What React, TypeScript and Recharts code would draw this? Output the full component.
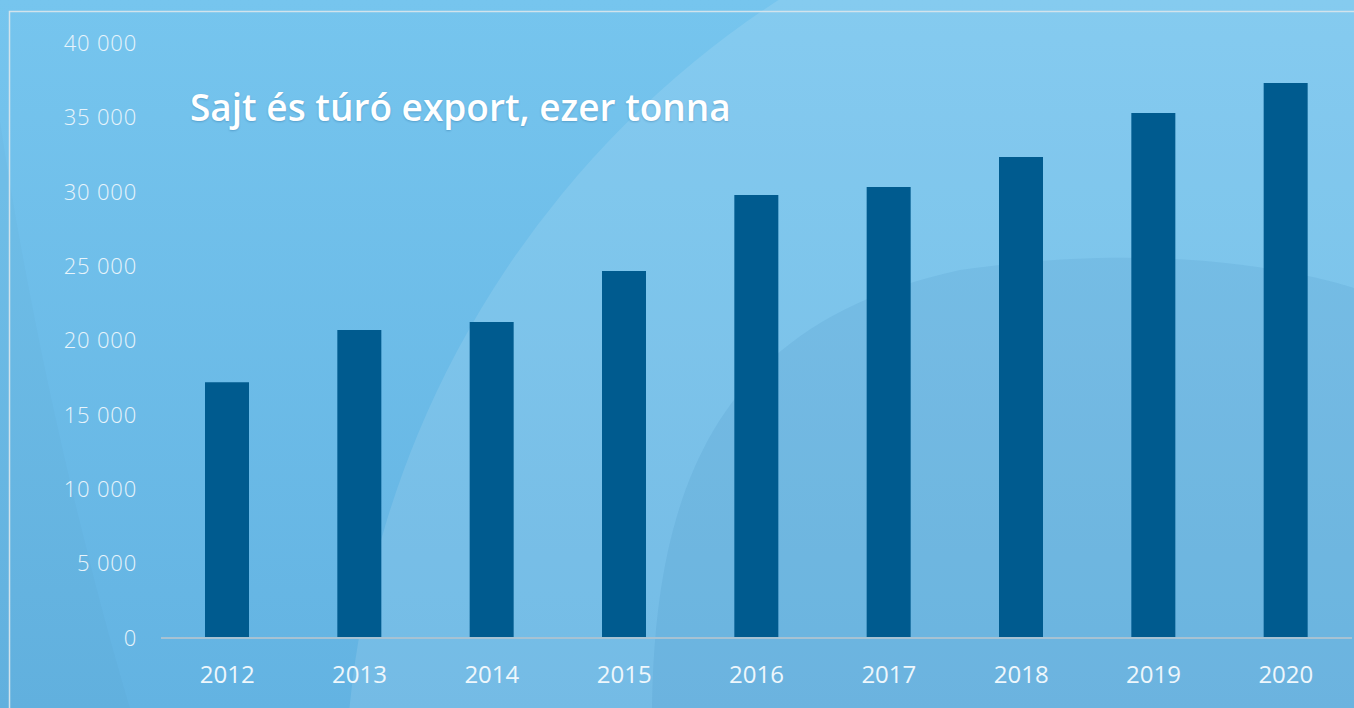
import { BarChart, Bar, XAxis, YAxis } from "recharts";

const YEARS = ["2012", "2013", "2014", "2015", "2016", "2017", "2018", "2019", "2020"];
const EXPORT_VALUES = [17200, 20700, 21250, 24680, 29780, 30320, 32340, 35290, 37310];
const Y_TICKS = [0, 5000, 10000, 15000, 20000, 25000, 30000, 35000, 40000];
const TITLE = "Sajt és túró export, ezer tonna";

const W = 1354;
const H = 708;

const fmt = (v: number) => String(v).replace(/\B(?=(\d{3})+(?!\d))/g, " ");

const data = YEARS.map((y, i) => ({ year: y, value: EXPORT_VALUES[i] }));

// háttér díszítés (körívek), nem adat
function Backdrop() {
  return (
    <svg width={W} height={H} style={{ position: "absolute", left: 0, top: 0 }}>
      <defs>
        <linearGradient id="bg" x1="0" y1="0" x2="0" y2="1">
          <stop offset="0%" stopColor="#76c5ee" />
          <stop offset="100%" stopColor="#63b3e2" />
        </linearGradient>
      </defs>
      <rect x={0} y={0} width={W} height={H} fill="url(#bg)" />
      <path d="M 0,120 C 30,320 80,540 130,708 L 0,708 Z" fill="#000" fillOpacity={0.015} />
      <circle cx={1300} cy={800} r={955} fill="#fff" fillOpacity={0.11} />
      <path
        d="M 652,708 C 655,470 730,320 960,270 C 1130,245 1270,262 1354,288 L 1354,708 Z"
        fill="#0a5f9c"
        fillOpacity={0.08}
      />
      <rect x={9.5} y={11.5} width={W} height={H} fill="none" stroke="#d2e3ec" strokeWidth={1.5} />
    </svg>
  );
}

export default function App() {
  return (
    <div style={{ position: "absolute", left: 0, top: 0, width: W, height: H, overflow: "hidden" }}>
      <Backdrop />
      <div style={{ position: "absolute", left: 0, top: 0 }}>
        <BarChart width={W} height={H} data={data} margin={{ top: 43, right: 2, bottom: 0, left: 0 }}>
          <XAxis
            dataKey="year"
            height={70}
            tickLine={false}
            tickSize={0}
            tickMargin={28}
            axisLine={{ stroke: "#a7c2d3", strokeWidth: 2 }}
            tick={{ fill: "#eef7fc", fontSize: 24, fontFamily: "Open Sans" }}
          />
          <YAxis
            width={161}
            domain={[0, 40000]}
            ticks={Y_TICKS}
            tickFormatter={fmt}
            axisLine={false}
            tickLine={false}
            tickSize={0}
            tickMargin={24}
            interval={0}
            tick={{ fill: "#e8f4fb", fontSize: 22, fontFamily: "Open Sans", fontWeight: 300, letterSpacing: 0.8 }}
          />
          <Bar dataKey="value" fill="#005b8f" barSize={44} isAnimationActive={false} />
        </BarChart>
      </div>
      <div
        style={{
          position: "absolute",
          left: 190,
          top: 81,
          color: "#ffffff",
          fontFamily: "Open Sans",
          fontWeight: 600,
          fontSize: 37,
          whiteSpace: "nowrap",
          textShadow: "0 1px 2px rgba(0,60,110,0.25)",
        }}
      >
        {TITLE}
      </div>
    </div>
  );
}
